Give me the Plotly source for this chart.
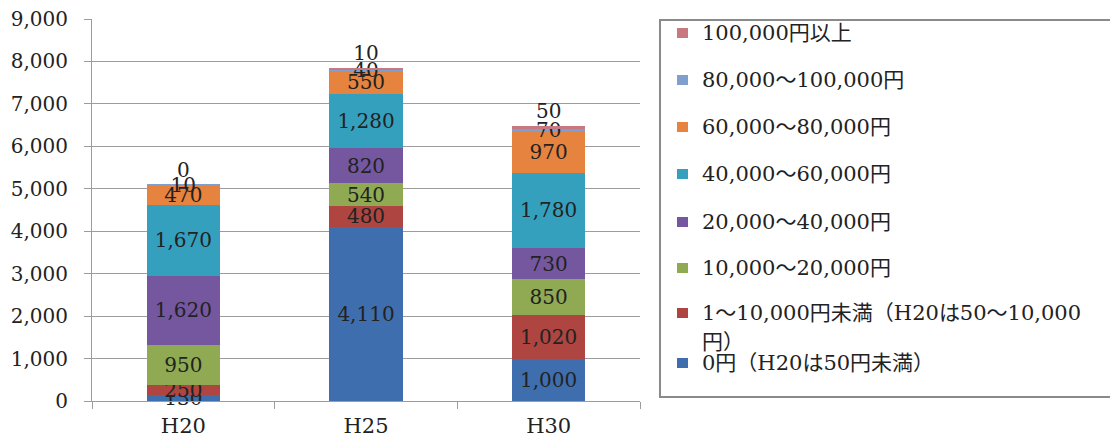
import plotly.graph_objects as go

# Survey years (x categories)
years = ["H20", "H25", "H30"]

# Series names, bottom of the stack first
series_names = [
    "0円（H20は50円未満）",
    "1～10,000円未満（H20は50～10,000円）",
    "10,000～20,000円",
    "20,000～40,000円",
    "40,000～60,000円",
    "60,000～80,000円",
    "80,000～100,000円",
    "100,000円以上",
]

# Values per series for H20, H25, H30
v_0yen = [130, 4110, 1000]
v_1_10k = [250, 480, 1020]
v_10_20k = [950, 540, 850]
v_20_40k = [1620, 820, 730]
v_40_60k = [1670, 1280, 1780]
v_60_80k = [470, 550, 970]
v_80_100k = [10, 40, 70]
v_100k_plus = [0, 10, 50]

series_values = [v_0yen, v_1_10k, v_10_20k, v_20_40k,
                 v_40_60k, v_60_80k, v_80_100k, v_100k_plus]

colors = ["#3F6EAF", "#AE4540", "#8FAA52", "#7557A0",
          "#35A0BE", "#E6833F", "#7F9FCF", "#C8787F"]

# Legend text lines (top to bottom as listed in the legend box)
legend_lines = [
    ["100,000円以上"],
    ["80,000～100,000円"],
    ["60,000～80,000円"],
    ["40,000～60,000円"],
    ["20,000～40,000円"],
    ["10,000～20,000円"],
    ["1～10,000円未満（H20は50～10,000", "円）"],
    ["0円（H20は50円未満）"],
]

yticks = [0, 1000, 2000, 3000, 4000, 5000, 6000, 7000, 8000, 9000]

FONT = "DejaVu Serif, Noto Sans CJK JP, serif"
TXT = "#222222"
GRID = "#9c9c9c"

# Plot area in pixels (page is 1110 x 441)
L, R, T, B = 92, 640, 19, 401
PW, PH = R - L, B - T


def px_x(x):
    return (x - L) / PW


def px_y(y):
    return (B - y) / PH


fig = go.Figure()
n = len(series_names)
for i, (name, vals, col) in enumerate(zip(series_names, series_values, colors)):
    top = i == n - 1
    fig.add_trace(go.Bar(
        x=years, y=vals, name=name,
        marker=dict(color=col, line=dict(width=0)),
        text=[f"{v:,}" for v in vals],
        textposition="outside" if top else "inside",
        insidetextanchor="middle",
        textangle=0,
        constraintext="none",
        cliponaxis=False,
        textfont=dict(family=FONT, size=20, color=TXT),
        showlegend=False,
    ))

fig.update_layout(
    width=1110, height=441,
    margin=dict(l=L, r=1110 - R, t=T, b=441 - B, pad=0),
    paper_bgcolor="white", plot_bgcolor="white",
    barmode="stack", bargap=0.6,
    font=dict(family=FONT, size=20, color=TXT),
    uniformtext=dict(mode=False),
)

fig.update_yaxes(
    range=[0, 9000], tickvals=yticks,
    ticktext=[f"{v:,}" for v in yticks],
    showgrid=True, gridcolor=GRID, gridwidth=1,
    showline=True, linecolor=GRID, linewidth=1,
    ticks="outside", ticklen=7, tickcolor=GRID,
    ticklabelstandoff=12,
    tickfont=dict(family=FONT, size=20, color=TXT),
    zeroline=False, automargin=False,
)
fig.update_xaxes(
    showline=True, linecolor=GRID, linewidth=1,
    ticks="outside", ticklen=7, tickcolor=GRID,
    tickson="boundaries",
    ticklabelstandoff=6,
    tickfont=dict(family=FONT, size=21, color=TXT),
    automargin=False,
)

# Legend box
fig.add_shape(type="rect", xref="paper", yref="paper",
              x0=px_x(660), x1=px_x(1114), y0=px_y(397), y1=px_y(20),
              line=dict(color="#8a8a8a", width=2), fillcolor="rgba(0,0,0,0)")

# Legend entries: colours are listed bottom-first, legend runs top-first
entry_y = [33, 80, 127, 174, 222, 268, 313, 363]
for k, lines in enumerate(legend_lines):
    col = colors[n - 1 - k]
    yc = entry_y[k]
    fig.add_shape(type="rect", xref="paper", yref="paper",
                  x0=px_x(677), x1=px_x(688), y0=px_y(yc + 5), y1=px_y(yc - 5),
                  line=dict(width=0), fillcolor=col)
    for j, line in enumerate(lines):
        fig.add_annotation(xref="paper", yref="paper",
                           x=px_x(700), y=px_y(yc + 29 * j),
                           xanchor="left", yanchor="middle",
                           text=line, showarrow=False,
                           font=dict(family=FONT, size=21, color=TXT))

fig.write_html("out.html")
